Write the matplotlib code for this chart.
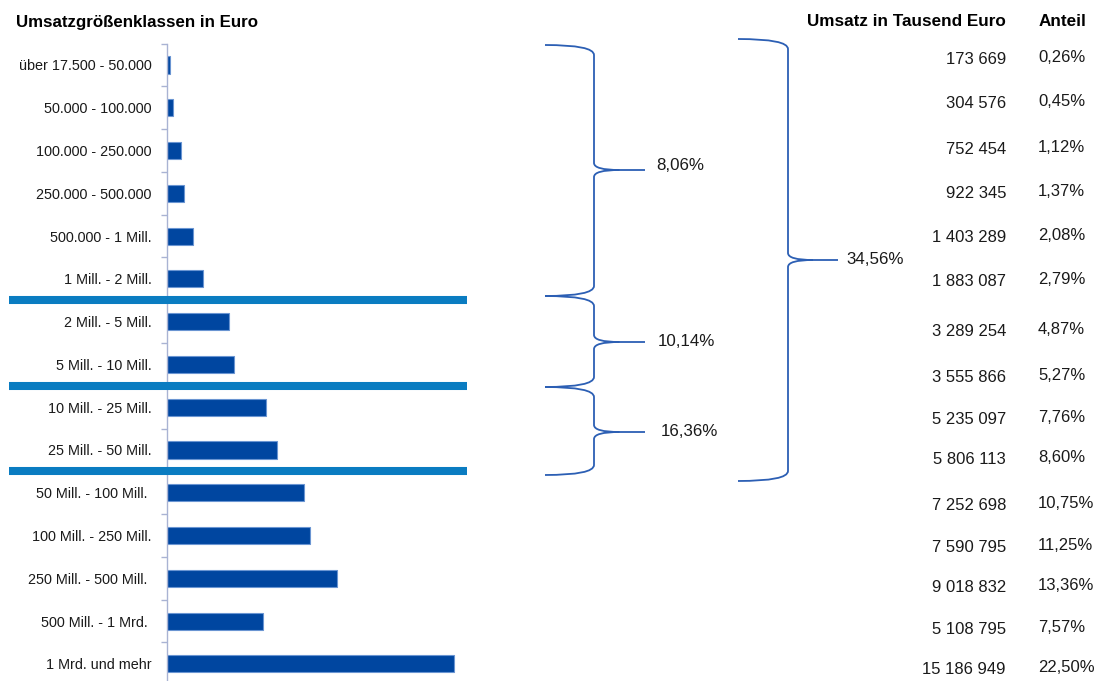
import matplotlib.pyplot as plt
from matplotlib.path import Path
from matplotlib.patches import PathPatch

classes = [
    "über 17.500 - 50.000", "50.000 - 100.000", "100.000 - 250.000",
    "250.000 - 500.000", "500.000 - 1 Mill.", "1 Mill. - 2 Mill.",
    "2 Mill. - 5 Mill.", "5 Mill. - 10 Mill.", "10 Mill. - 25 Mill.",
    "25 Mill. - 50 Mill.", "50 Mill. - 100 Mill. ", "100 Mill. - 250 Mill.",
    "250 Mill. - 500 Mill. ", "500 Mill. - 1 Mrd. ", "1 Mrd. und mehr",
]
umsatz = [173669, 304576, 752454, 922345, 1403289, 1883087, 3289254, 3555866,
          5235097, 5806113, 7252698, 7590795, 9018832, 5108795, 15186949]
anteil = [0.26, 0.45, 1.12, 1.37, 2.08, 2.79, 4.87, 5.27,
          7.76, 8.60, 10.75, 11.25, 13.36, 7.57, 22.50]
group_shares = [8.06, 10.14, 16.36]
total_share = 34.56

BAR = "#0046a0"
BAR_EDGE = "#6a95d2"
SEP = "#0a7cc1"
BRACE = "#2c5fb4"
AXIS = "#a9b3d3"
TXT = "#1a1a1a"

plt.rcParams["font.family"] = ["Liberation Sans", "DejaVu Sans"]


def pct(v):
    return f"{v:.2f}%".replace(".", ",")


def brace(ax, xl, xv, xt, yt, ym, yb, r=10, rm=7):
    # curly bracket opening to the left, tip pointing right
    verts = [(xl, yt), (xv, yt), (xv, yt + r),
             (xv, ym - rm), (xv, ym), ((xv + xt) / 2, ym),
             (xt, ym)]
    codes = [Path.MOVETO, Path.CURVE3, Path.CURVE3,
             Path.LINETO, Path.CURVE3, Path.CURVE3, Path.LINETO]
    ax.add_patch(PathPatch(Path(verts, codes), fill=False, ec=BRACE, lw=1.3))
    verts = [((xv + xt) / 2, ym), (xv, ym), (xv, ym + rm),
             (xv, yb - r), (xv, yb), (xl, yb)]
    codes = [Path.MOVETO, Path.CURVE3, Path.CURVE3,
             Path.LINETO, Path.CURVE3, Path.CURVE3]
    ax.add_patch(PathPatch(Path(verts, codes), fill=False, ec=BRACE, lw=1.3))


W, H = 1102, 681
fig = plt.figure(figsize=(W / 100, H / 100), dpi=100)

# bar chart
ax = fig.add_axes([167 / W, 0, 300 / W, 637.4 / H], zorder=1)
ypos = list(range(len(classes)))
ax.barh(ypos, umsatz, height=0.4, color=BAR, edgecolor=BAR_EDGE, linewidth=0.8)
ax.set_xlim(0, 15.9e6)
ax.set_ylim(14.4, -0.5)
for s in ["top", "right", "bottom"]:
    ax.spines[s].set_visible(False)
ax.spines["left"].set_color(AXIS)
ax.spines["left"].set_linewidth(1.0)
ax.set_xticks([])
ax.set_yticks(ypos)
ax.set_yticklabels(classes, fontsize=10.4, color=TXT)
ax.set_yticks([i - 0.5 for i in range(len(classes))], minor=True)
ax.tick_params(axis="y", which="major", length=0, pad=11)
ax.tick_params(axis="y", which="minor", length=4, color=AXIS, width=1)
ax.patch.set_visible(False)

# group separators
ax.hlines([5.5, 7.5, 9.5], -0.527, 1.0, transform=ax.get_yaxis_transform(),
          colors=SEP, linewidth=5.8, clip_on=False, zorder=5)

# overlay in pixel coordinates for headings, braces and the table
ov = fig.add_axes([0, 0, 1, 1], zorder=2)
ov.set_xlim(0, W)
ov.set_ylim(H, 0)
ov.axis("off")
ov.patch.set_visible(False)

ov.text(16, 22, "Umsatzgrößenklassen in Euro", fontsize=12.2, fontweight="bold",
        ha="left", va="center")
ov.text(1006, 22, "Umsatz in Tausend Euro", fontsize=12.3, fontweight="bold",
        ha="right", va="center")
ov.text(1039, 22, "Anteil", fontsize=12.3, fontweight="bold",
        ha="left", va="center")

row_y = [60, 104, 149, 193, 237, 281, 332, 377, 420, 460, 505, 547, 588, 630, 670]
for y, u, a in zip(row_y, umsatz, anteil):
    ov.text(1006, y, f"{u:,}".replace(",", " "), fontsize=12,
            ha="right", va="center", color=TXT)
    ov.text(1038, y - 2, pct(a), fontsize=12, ha="left", va="center",
            color=TXT)

# braces for the share groups
groups = [(45, 170, 296), (296, 342, 387), (387, 432, 475)]
label_x = [656, 658, 661]
label_dy = [-5, 0, 0]
for (yt, ym, yb), lx, dy, share in zip(groups, label_x, label_dy, group_shares):
    brace(ov, 545, 594, 645, yt, ym, yb)
    ov.text(lx, ym + dy, pct(share), fontsize=12.2, ha="left", va="center",
            color=TXT)

brace(ov, 738, 788, 838, 39, 260, 481)
ov.text(846, 260, pct(total_share), fontsize=12.2, ha="left", va="center",
        color=TXT)

fig.savefig("out.png", dpi=100)
